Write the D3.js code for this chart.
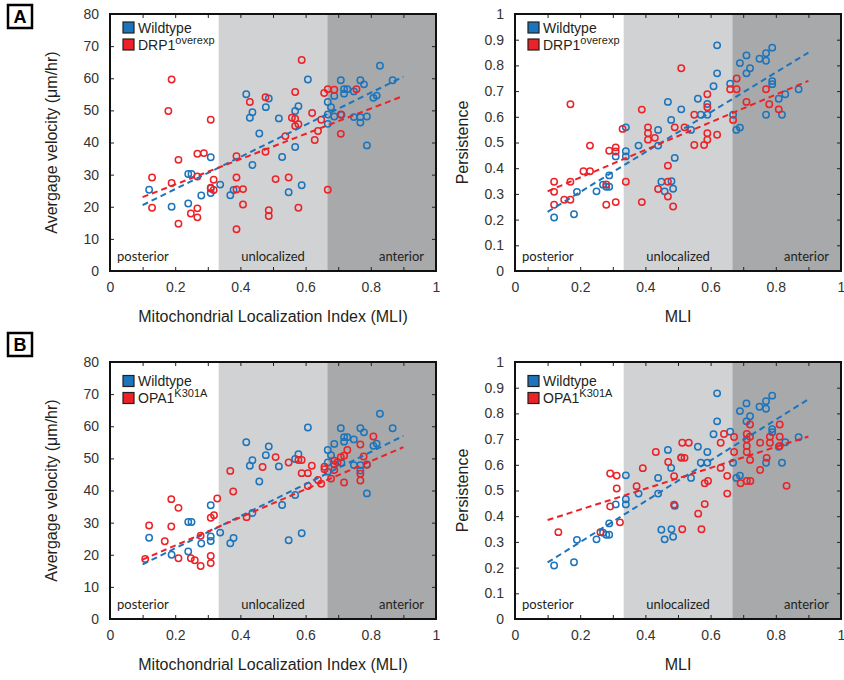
<!DOCTYPE html>
<html>
<head>
<meta charset="utf-8">
<script src="https://cdn.jsdelivr.net/npm/d3@7"></script>
<style>
  body { margin: 0; background: #fff; }
  svg { display: block; }
  text { font-family: "Liberation Sans", Arial, sans-serif; }
</style>
</head>
<body>
<svg></svg>
<script>
// wildtype (same cells in A and B)
var wtMli = [0.12, 0.189, 0.24, 0.24, 0.25, 0.28, 0.309, 0.309, 0.309, 0.338, 0.369, 0.379, 0.418, 0.429, 0.437, 0.437, 0.458, 0.478, 0.487, 0.518,
  0.528, 0.548, 0.568, 0.568, 0.578, 0.588, 0.607, 0.668, 0.668, 0.668, 0.678, 0.688, 0.688, 0.708, 0.71, 0.718, 0.718, 0.728, 0.748, 0.748,
  0.768, 0.768, 0.768, 0.779, 0.788, 0.788, 0.808, 0.818, 0.828, 0.867];
var wtVel = [25.3, 20.0, 21.0, 30.2, 30.2, 23.5, 35.4, 24.3, 25.7, 26.9, 23.6, 25.2, 55.0, 47.7, 49.4, 33.0, 42.8, 51.0, 53.7, 47.5,
  35.5, 24.5, 38.6, 49.8, 51.3, 26.7, 59.6, 52.6, 48.7, 45.8, 51.0, 54.5, 48.1, 59.4, 48.6, 56.6, 55.2, 56.6, 55.9, 47.9,
  59.4, 47.9, 46.2, 58.1, 48.1, 39.1, 53.9, 54.6, 63.9, 59.4];

var wtPerMli = [0.12, 0.181, 0.19, 0.25, 0.27, 0.28, 0.289, 0.289, 0.309, 0.34, 0.34, 0.34, 0.379, 0.439, 0.439, 0.449, 0.459, 0.469, 0.479, 0.48,
  0.485, 0.49, 0.51, 0.54, 0.561, 0.57, 0.59, 0.59, 0.609, 0.62, 0.62, 0.66, 0.669, 0.679, 0.69, 0.69, 0.71, 0.71, 0.721, 0.75,
  0.77, 0.77, 0.77, 0.789, 0.789, 0.789, 0.809, 0.819, 0.829, 0.87];
var wtPer = [0.208, 0.221, 0.308, 0.31, 0.336, 0.328, 0.328, 0.372, 0.446, 0.446, 0.466, 0.559, 0.488, 0.488, 0.549, 0.347, 0.31, 0.658, 0.588, 0.349,
  0.32, 0.44, 0.629, 0.549, 0.67, 0.608, 0.608, 0.65, 0.719, 0.878, 0.769, 0.729, 0.608, 0.549, 0.558, 0.809, 0.839, 0.769, 0.789, 0.826,
  0.847, 0.818, 0.608, 0.869, 0.739, 0.727, 0.67, 0.608, 0.688, 0.707];

// DRP1 overexpression
var drpMli = [0.129, 0.129, 0.179, 0.189, 0.189, 0.21, 0.21, 0.248, 0.268, 0.268, 0.268, 0.268, 0.288, 0.309, 0.309, 0.318, 0.318, 0.388, 0.388, 0.388,
  0.388, 0.408, 0.408, 0.429, 0.477, 0.477, 0.487, 0.487, 0.508, 0.538, 0.548, 0.558, 0.568, 0.568, 0.568, 0.578, 0.578, 0.588, 0.62, 0.628,
  0.638, 0.648, 0.657, 0.668, 0.668, 0.688, 0.708, 0.708, 0.756];
var drpVel = [29.1, 19.7, 49.8, 59.6, 27.4, 34.6, 14.7, 17.9, 36.5, 29.4, 19.5, 16.7, 36.7, 47.1, 25.9, 28.4, 25.2, 35.7, 29.1, 25.4,
  13.0, 25.5, 20.7, 52.6, 54.1, 37.1, 18.9, 17.1, 28.6, 42.0, 29.1, 47.7, 55.7, 47.4, 45.1, 45.7, 19.7, 65.7, 49.2, 40.8,
  43.6, 47.1, 55.4, 56.6, 25.3, 56.4, 48.7, 42.7, 56.6];

var drpPerMli = [0.12, 0.12, 0.12, 0.151, 0.17, 0.17, 0.17, 0.21, 0.23, 0.23, 0.28, 0.28, 0.289, 0.309, 0.309, 0.309, 0.33, 0.34, 0.389, 0.389,
  0.408, 0.408, 0.408, 0.429, 0.439, 0.469, 0.469, 0.469, 0.485, 0.49, 0.51, 0.52, 0.55, 0.55, 0.58, 0.59, 0.59, 0.59, 0.59, 0.62,
  0.66, 0.669, 0.68, 0.68, 0.71, 0.77, 0.78, 0.809];
var drpPer = [0.347, 0.308, 0.258, 0.277, 0.649, 0.347, 0.277, 0.388, 0.488, 0.388, 0.337, 0.258, 0.468, 0.481, 0.465, 0.268, 0.553, 0.347, 0.628, 0.268,
  0.559, 0.536, 0.511, 0.518, 0.319, 0.41, 0.347, 0.29, 0.251, 0.559, 0.789, 0.559, 0.608, 0.49, 0.49, 0.688, 0.637, 0.536, 0.511, 0.53,
  0.707, 0.588, 0.749, 0.707, 0.658, 0.707, 0.649, 0.629];

// OPA1 K301A
var opaMli = [0.108, 0.12, 0.168, 0.188, 0.188, 0.21, 0.21, 0.248, 0.26, 0.278, 0.278, 0.309, 0.309, 0.309, 0.319, 0.329, 0.369, 0.378, 0.419, 0.468,
  0.508, 0.548, 0.578, 0.588, 0.588, 0.607, 0.607, 0.619, 0.638, 0.648, 0.658, 0.658, 0.678, 0.688, 0.688, 0.698, 0.708, 0.718, 0.718, 0.728,
  0.768, 0.768, 0.768, 0.778, 0.788, 0.808];
var opaVel = [18.7, 29.1, 24.2, 37.3, 28.8, 34.6, 18.9, 18.9, 18.3, 25.9, 16.5, 31.5, 19.6, 17.4, 32.3, 37.5, 46.1, 39.7, 31.7, 47.3,
  50.4, 48.7, 49.5, 49.5, 45.4, 45.4, 41.4, 47.7, 43.3, 42.1, 47.4, 46.6, 43.7, 46.4, 49.3, 48.8, 50.4, 50.8, 42.5, 52.6,
  54.3, 45.2, 43.1, 50.6, 48.0, 56.8];

var opaPerMli = [0.133, 0.262, 0.292, 0.292, 0.312, 0.312, 0.322, 0.373, 0.392, 0.432, 0.47, 0.488, 0.488, 0.51, 0.513, 0.513, 0.52, 0.533, 0.562, 0.572,
  0.582, 0.582, 0.592, 0.631, 0.631, 0.641, 0.651, 0.651, 0.672, 0.672, 0.692, 0.711, 0.711, 0.711, 0.711, 0.711, 0.721, 0.721, 0.721, 0.722,
  0.752, 0.752, 0.772, 0.782, 0.782, 0.812, 0.812, 0.812, 0.833];
var opaPer = [0.338, 0.338, 0.566, 0.438, 0.558, 0.508, 0.376, 0.517, 0.587, 0.65, 0.611, 0.556, 0.445, 0.627, 0.686, 0.349, 0.627, 0.686, 0.41, 0.349,
  0.528, 0.447, 0.537, 0.686, 0.588, 0.72, 0.557, 0.488, 0.708, 0.65, 0.528, 0.72, 0.699, 0.673, 0.65, 0.537, 0.757, 0.709, 0.619, 0.537,
  0.686, 0.58, 0.627, 0.709, 0.686, 0.757, 0.709, 0.673, 0.518];

// dashed fit lines, value at MLI 0.1 and 0.9
var fitX = [0.1, 0.9];
var fitWtVelA = [20.5, 60.5], fitDrpVel = [23, 54.5];
var fitWtPerA = [0.23, 0.85], fitDrpPer = [0.31, 0.74];
var fitWtVelB = [17, 57], fitOpaVel = [18.5, 53.5];
var fitWtPerB = [0.22, 0.855], fitOpaPer = [0.385, 0.71];

var zoneEdges = [0, 1/3, 2/3, 1];
var zoneNames = ["posterior", "unlocalized", "anterior"];
var xTicks = d3.range(0, 11).map(function(i){ return i / 10; });
var velTicks = d3.range(0, 9).map(function(i){ return i * 10; });
var perTicks = xTicks;

var blue = "#1c75bc", red = "#ec2227";
var zoneFill = ["#ffffff", "#d1d2d4", "#a7a9ab"];

var svgWidth = 844, svgHeight = 680, plotW = 326, plotH = 257;

var svg = d3.select("svg")
    .attr("width", svgWidth)
    .attr("height", svgHeight);

var panels = [
  {left: 110, top: 14, yMax: 80, yTicks: velTicks, ytitle: "Avergage velocity (\u03bcm/hr)", xtitle: "Mitochondrial Localization Index (MLI)",
   wx: wtMli, wy: wtVel, mx: drpMli, my: drpVel, wfit: fitWtVelA, mfit: fitDrpVel, gene: "DRP1", sup: "overexp", legTop: 13.5},
  {left: 515, top: 14, yMax: 1, yTicks: perTicks, ytitle: "Persistence", xtitle: "MLI",
   wx: wtPerMli, wy: wtPer, mx: drpPerMli, my: drpPer, wfit: fitWtPerA, mfit: fitDrpPer, gene: "DRP1", sup: "overexp", legTop: 13.5},
  {left: 110, top: 362, yMax: 80, yTicks: velTicks, ytitle: "Avergage velocity (\u03bcm/hr)", xtitle: "Mitochondrial Localization Index (MLI)",
   wx: wtMli, wy: wtVel, mx: opaMli, my: opaVel, wfit: fitWtVelB, mfit: fitOpaVel, gene: "OPA1", sup: "K301A", legTop: 19},
  {left: 515, top: 362, yMax: 1, yTicks: perTicks, ytitle: "Persistence", xtitle: "MLI",
   wx: wtPerMli, wy: wtPer, mx: opaPerMli, my: opaPer, wfit: fitWtPerB, mfit: fitOpaPer, gene: "OPA1", sup: "K301A", legTop: 19}
];

panels.forEach(function(p){
  var g = svg.append("g").attr("transform", "translate(" + p.left + "," + p.top + ")");
  var x = d3.scaleLinear().domain([0, 1]).range([0, plotW]);
  var y = d3.scaleLinear().domain([0, p.yMax]).range([plotH, 0]);

  // localization zones
  g.selectAll("rect.zone")
    .data(zoneFill)
    .enter()
    .append("rect")
    .attr("class", "zone")
    .attr("x", function(d, i){ return x(zoneEdges[i]); })
    .attr("y", 0)
    .attr("width", function(d, i){ return x(zoneEdges[i + 1]) - x(zoneEdges[i]); })
    .attr("height", plotH)
    .attr("fill", function(d){ return d; });

  g.selectAll("text.zone")
    .data(zoneNames)
    .enter()
    .append("text")
    .attr("class", "zone")
    .attr("x", function(d, i){ return i == 0 ? 7 : i == 1 ? x(0.5) : plotW - 12; })
    .attr("y", plotH - 10)
    .attr("text-anchor", function(d, i){ return i == 0 ? "start" : i == 1 ? "middle" : "end"; })
    .style("font-family", "Lato, 'Open Sans', sans-serif")
    .style("font-size", "13px")
    .attr("fill", "#231f20")
    .text(function(d){ return d; });

  // axes, ticks pointing inward
  var yFmt = d3.format(".1~f");
  g.append("g").attr("transform", "translate(0," + plotH + ")")
    .call(d3.axisBottom(x).tickValues(xTicks).tickSize(-4).tickSizeOuter(0).tickPadding(11)
      .tickFormat(function(d, i){ return i % 2 == 0 ? yFmt(d) : ""; }));
  g.append("g")
    .call(d3.axisTop(x).tickValues(xTicks).tickSize(-4).tickSizeOuter(0).tickFormat(""));
  g.append("g")
    .call(d3.axisLeft(y).tickValues(p.yTicks).tickSize(-4).tickSizeOuter(0).tickPadding(11).tickFormat(yFmt));
  g.append("g").attr("transform", "translate(" + plotW + ",0)")
    .call(d3.axisRight(y).tickValues(p.yTicks).tickSize(-4).tickSizeOuter(0).tickFormat(""));
  g.selectAll(".domain").remove();
  g.selectAll(".tick line").attr("stroke", "#231f20").attr("stroke-width", 1);
  g.selectAll(".tick text").style("font-family", "'Liberation Sans', Arial, sans-serif").style("font-size", "14px").attr("fill", "#333");

  g.append("rect")
    .attr("width", plotW).attr("height", plotH)
    .attr("fill", "none").attr("stroke", "#111").attr("stroke-width", 2);

  // points
  var groups = [
    {xs: p.wx, ys: p.wy, color: blue, fit: p.wfit},
    {xs: p.mx, ys: p.my, color: red, fit: p.mfit}
  ];
  groups.forEach(function(s){
    g.append("g").selectAll("circle")
      .data(s.xs)
      .enter()
      .append("circle")
      .attr("cx", function(d){ return x(d); })
      .attr("cy", function(d, i){ return y(s.ys[i]); })
      .attr("r", 3.2)
      .attr("fill", "none")
      .attr("stroke", s.color)
      .attr("stroke-width", 1.5);
  });
  groups.forEach(function(s){
    var line = d3.line()
      .x(function(d){ return x(d); })
      .y(function(d, i){ return y(s.fit[i]); });
    g.append("path")
      .attr("d", line(fitX))
      .attr("fill", "none")
      .attr("stroke", s.color)
      .attr("stroke-width", 2)
      .attr("stroke-dasharray", "6,4");
  });

  // legend
  var leg = g.append("g").attr("transform", "translate(13," + p.legTop + ")");
  var entries = [{c: blue, t: "Wildtype"}, {c: red, t: p.gene, s: p.sup}];
  entries.forEach(function(e, i){
    var row = leg.append("g").attr("transform", "translate(0," + (i * 17) + ")");
    row.append("rect").attr("x", 0).attr("y", -5.5).attr("width", 11).attr("height", 11)
      .attr("fill", e.c).attr("stroke", "#231f20").attr("stroke-width", 1.2);
    var t = row.append("text").attr("x", 15).attr("y", 5)
      .style("font-size", "14px").attr("fill", "#231f20").text(e.t);
    if (e.s) t.append("tspan").attr("dy", -6).style("font-size", "11px").text(e.s);
  });

  // axis titles
  g.append("text")
    .attr("transform", "translate(" + (p.left == 110 ? -53 : -47) + "," + (plotH / 2) + ") rotate(-90)")
    .attr("text-anchor", "middle")
    .style("font-size", "16px").attr("fill", "#231f20")
    .text(p.ytitle);
  g.append("text")
    .attr("x", plotW / 2).attr("y", plotH + 51)
    .attr("text-anchor", "middle")
    .style("font-size", "16px").attr("fill", "#231f20")
    .text(p.xtitle);
});

// panel letters
var letters = [{t: "A", y: 5}, {t: "B", y: 333}];
letters.forEach(function(l){
  var g = svg.append("g").attr("transform", "translate(8," + l.y + ")");
  g.append("rect").attr("width", 24).attr("height", 23)
    .attr("fill", "#fff").attr("stroke", "#000").attr("stroke-width", 2.5);
  g.append("text").attr("x", 12).attr("y", 18).attr("text-anchor", "middle")
    .style("font-size", "18px").style("font-weight", "bold").text(l.t);
});
</script>
</body>
</html>
